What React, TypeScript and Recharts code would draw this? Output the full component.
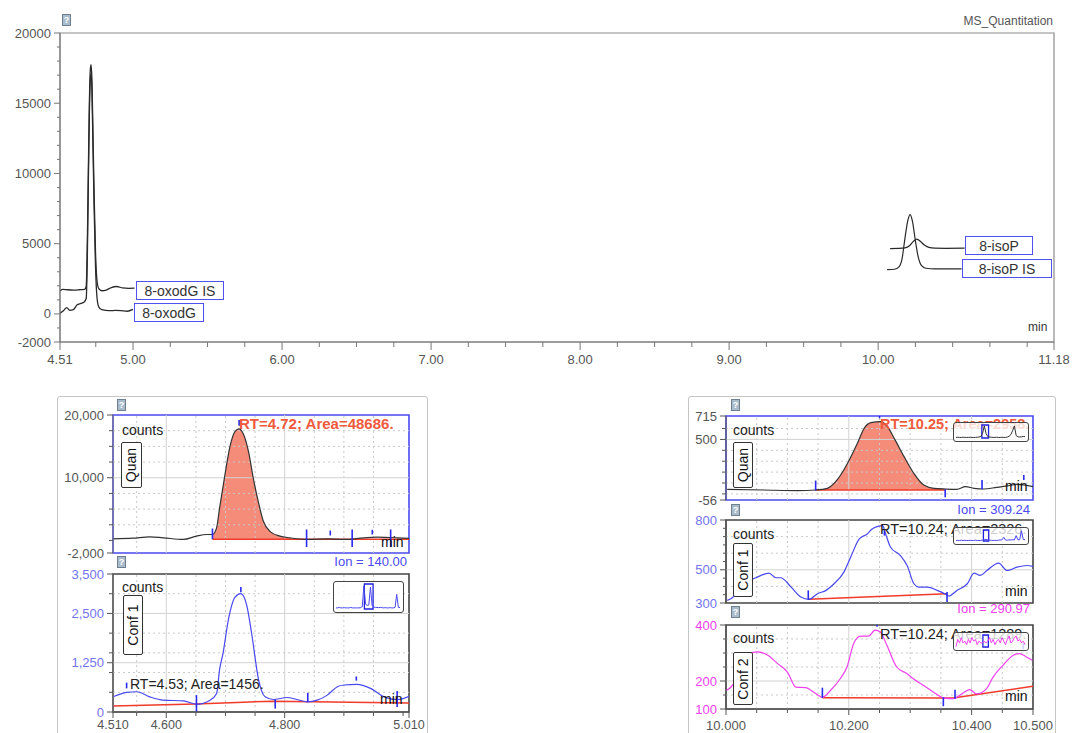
import React from 'react';
import { LineChart, ComposedChart, Line, Area, XAxis, YAxis, ReferenceLine, ReferenceArea } from 'recharts';

const FONT = '"Liberation Sans", Arial, sans-serif';

// ================= TOP OVERVIEW =================
const topXTicks = [4.51, 4.75, 5, 5.25, 5.5, 5.75, 6, 6.25, 6.5, 6.75, 7, 7.25, 7.5, 7.75, 8, 8.25, 8.5, 8.75, 9, 9.25, 9.5, 9.75, 10, 10.25, 10.5, 10.75, 11, 11.18];
const topXLabelVals = [4.51, 5, 6, 7, 8, 9, 10, 11.18];
const topXLabelText = ['4.51', '5.00', '6.00', '7.00', '8.00', '9.00', '10.00', '11.18'];
const topYTicks = [-2000, -1000, 0, 1000, 2000, 3000, 4000, 5000, 6000, 7000, 8000, 9000, 10000, 11000, 12000, 13000, 14000, 15000, 16000, 17000, 18000, 19000, 20000];
const topYLabelVals = [-2000, 0, 5000, 10000, 15000, 20000];
const topYLabelText = ['-2000', '0', '5000', '10000', '15000', '20000'];

const oxoIST = [4.51, 4.53, 4.56, 4.6, 4.64, 4.675, 4.686, 4.694, 4.7, 4.707, 4.713, 4.718, 4.724, 4.731, 4.739, 4.748, 4.758, 4.77, 4.79, 4.82, 4.85, 4.89, 4.93, 4.97, 5.01];
const oxoISV = [1650, 1750, 1720, 1700, 1720, 1750, 2000, 5500, 10000, 15000, 17300, 17750, 16800, 13000, 8500, 4500, 2400, 1800, 1650, 1700, 1850, 1950, 1850, 1820, 1830];
const oxoT = [4.51, 4.535, 4.555, 4.575, 4.6, 4.625, 4.65, 4.672, 4.686, 4.694, 4.7, 4.707, 4.713, 4.718, 4.724, 4.731, 4.739, 4.748, 4.758, 4.77, 4.79, 4.82, 4.85, 4.88, 4.92, 4.96, 5.0];
const oxoV = [50, 250, 450, 250, 300, 650, 750, 850, 1100, 4500, 9200, 14200, 16600, 17100, 16000, 12000, 7500, 3500, 1200, 500, 300, 250, 230, 250, 230, 190, 320];
const isoPT = [10.08, 10.14, 10.18, 10.21, 10.235, 10.26, 10.285, 10.31, 10.34, 10.38, 10.45, 10.58];
const isoPV = [4650, 4660, 4700, 4850, 5150, 5330, 5150, 4900, 4740, 4680, 4670, 4680];
const isoPIST = [10.06, 10.11, 10.14, 10.16, 10.18, 10.2, 10.215, 10.23, 10.25, 10.27, 10.29, 10.32, 10.38, 10.56];
const isoPISV = [3150, 3180, 3350, 3900, 5400, 6700, 7070, 6600, 5200, 4000, 3450, 3250, 3200, 3200];

// ================= LEFT PANEL (8-oxodG) =================
const leftXTicks = [4.51, 4.55, 4.6, 4.65, 4.7, 4.75, 4.8, 4.85, 4.9, 4.95, 5.0, 5.01];
const leftXLabelVals = [4.51, 4.6, 4.8, 5.01];
const leftXLabelText = ['4.510', '4.600', '4.800', '5.010'];
const leftXGridMajor = [4.6, 4.8];
const leftXGridMinor = [4.55, 4.65, 4.7, 4.75, 4.85, 4.9, 4.95];

const quanLYTicks = [-2000, 0, 2500, 5000, 7500, 10000, 12500, 15000, 17500, 20000];
const quanLYLabelVals = [-2000, 10000, 20000];
const quanLYLabelText = ['-2,000', '10,000', '20,000'];
const quanLGridMinor = [2500, 5000, 7500, 12500, 15000, 17500];
const quanLGridMajor = [10000];
const quanLT = [4.51, 4.544, 4.572, 4.595, 4.629, 4.651, 4.668, 4.678, 4.685, 4.69, 4.699, 4.708, 4.716, 4.723, 4.73, 4.739, 4.747, 4.756, 4.764, 4.776, 4.792, 4.809, 4.838, 4.872, 4.9, 4.934, 4.956, 4.99, 5.01];
const quanLV = [263, 368, 579, 421, 158, 684, 947, 947, 2000, 5158, 10421, 15158, 17368, 17789, 17000, 14105, 9895, 5947, 3052, 1368, 684, 421, 158, 263, 158, 421, 526, 421, 316];
const quanLFillStart = 4.678;
const quanLFillEnd = 4.809;
const quanLBase = 200;
const quanLBaseT = [4.678, 5.01];
const quanLBaseV = [200, 200];
const quanLMarkT = [4.678, 4.723, 4.837, 4.877, 4.914, 4.948, 4.979];
const quanLMarkLo = [200, 18300, -1050, 800, -1050, 950, -1050];
const quanLMarkHi = [1900, 19200, 1750, 1580, 1750, 1700, 1750];

const conf1LYTicks = [0, 500, 1000, 1250, 1500, 2000, 2500, 3000, 3500];
const conf1LYLabelVals = [0, 1250, 2500, 3500];
const conf1LYLabelText = ['0', '1,250', '2,500', '3,500'];
const conf1LGridMinor = [500, 1000, 1500, 2000, 3000];
const conf1LGridMajor = [1250, 2500];
const conf1LT = [4.51, 4.533, 4.55, 4.572, 4.595, 4.629, 4.651, 4.674, 4.685, 4.69, 4.696, 4.705, 4.716, 4.726, 4.736, 4.744, 4.756, 4.767, 4.781, 4.804, 4.821, 4.838, 4.855, 4.872, 4.889, 4.9, 4.922, 4.945, 4.968, 4.99, 5.01];
const conf1LV = [385, 497, 514, 385, 300, 283, 197, 300, 470, 1070, 1500, 2350, 2910, 3000, 2700, 2010, 810, 385, 317, 368, 317, 257, 300, 428, 642, 685, 702, 600, 385, 317, 400];
const conf1LBaseT = [4.51, 4.65, 4.73, 4.78, 5.01];
const conf1LBaseV = [150, 200, 250, 270, 230];
const conf1LMarkT = [4.533, 4.651, 4.726, 4.784, 4.839, 4.921, 4.99];
const conf1LMarkLo = [600, 0, 3040, 86, 257, 796, 128];
const conf1LMarkHi = [745, 428, 3168, 317, 488, 900, 530];

// ================= RIGHT PANEL (8-isoP) =================
const rightXTicks = [10.0, 10.05, 10.1, 10.15, 10.2, 10.25, 10.3, 10.35, 10.4, 10.45, 10.5];
const rightXLabelVals = [10.0, 10.2, 10.4, 10.5];
const rightXLabelText = ['10.000', '10.200', '10.400', '10.500'];
const rightXGridMajor = [10.2, 10.4];
const rightXGridMinor = [10.05, 10.1, 10.15, 10.25, 10.3, 10.35, 10.45];

const quanRYTicks = [-56, 0, 100, 200, 300, 400, 500, 600, 715];
const quanRYLabelVals = [-56, 500, 715];
const quanRYLabelText = ['-56', '500', '715'];
const quanRGridMinor = [0, 100, 200, 300, 400, 600];
const quanRGridMajor = [500];
const quanRT = [10.002, 10.062, 10.116, 10.146, 10.165, 10.181, 10.198, 10.214, 10.225, 10.236, 10.252, 10.263, 10.274, 10.29, 10.306, 10.322, 10.339, 10.358, 10.376, 10.39, 10.404, 10.42, 10.441, 10.458, 10.474, 10.5];
const quanRV = [42, 36, 30, 36, 51, 128, 281, 464, 602, 654, 663, 617, 510, 342, 189, 82, 51, 45, 42, 67, 51, 45, 60, 73, 88, 67];
const quanRFillStart = 10.146;
const quanRFillEnd = 10.358;
const quanRBase = 36;
const quanRBaseT = [10.146, 10.358];
const quanRBaseV = [36, 36];
const quanRMarkT = [10.146, 10.25, 10.357, 10.417, 10.485];
const quanRMarkLo = [30, 694, -31, 42, 128];
const quanRMarkHi = [122, 715, 42, 128, 174];

const conf1RYTicks = [300, 350, 400, 450, 500, 550, 600, 650, 700, 750, 800];
const conf1RYLabelVals = [300, 500, 800];
const conf1RYLabelText = ['300', '500', '800'];
const conf1RGridMinor = [400, 600, 700];
const conf1RGridMajor = [500];
const conf1RT = [10.002, 10.008, 10.03, 10.051, 10.07, 10.081, 10.089, 10.106, 10.122, 10.135, 10.149, 10.163, 10.176, 10.192, 10.203, 10.217, 10.23, 10.238, 10.246, 10.255, 10.26, 10.268, 10.284, 10.295, 10.306, 10.314, 10.328, 10.344, 10.358, 10.363, 10.376, 10.393, 10.404, 10.414, 10.425, 10.444, 10.458, 10.474, 10.49, 10.5];
const conf1RV = [316, 326, 416, 456, 480, 452, 452, 396, 336, 322, 356, 376, 416, 486, 576, 686, 716, 746, 760, 766, 716, 636, 586, 526, 416, 396, 396, 376, 352, 342, 376, 416, 480, 466, 496, 540, 496, 516, 526, 520];
const conf1RBaseT = [10.135, 10.36];
const conf1RBaseV = [322, 356];
const conf1RMarkT = [10.134, 10.258, 10.36, 10.48];
const conf1RMarkLo = [320, 706, 306, 706];
const conf1RMarkHi = [376, 736, 366, 746];

const conf2RYTicks = [100, 150, 200, 250, 300, 350, 400];
const conf2RYLabelVals = [100, 200, 400];
const conf2RYLabelText = ['100', '200', '400'];
const conf2RGridMinor = [150, 250, 300, 350];
const conf2RGridMajor = [200];
const conf2RT = [10.0, 10.014, 10.024, 10.035, 10.051, 10.068, 10.084, 10.1, 10.114, 10.13, 10.143, 10.157, 10.17, 10.186, 10.197, 10.208, 10.219, 10.232, 10.243, 10.251, 10.262, 10.278, 10.295, 10.305, 10.322, 10.338, 10.354, 10.37, 10.386, 10.397, 10.408, 10.424, 10.435, 10.451, 10.468, 10.478, 10.489, 10.499];
const conf2RV = [166, 196, 262, 298, 304, 292, 262, 232, 178, 176, 160, 142, 166, 208, 250, 334, 360, 360, 382, 376, 328, 250, 226, 208, 184, 160, 140, 137, 157, 169, 154, 172, 214, 256, 292, 298, 286, 274];
const conf2RBaseT = [10.157, 10.37, 10.5];
const conf2RBaseV = [140, 139, 181];
const conf2RMarkT = [10.157, 10.246, 10.354, 10.373, 10.484];
const conf2RMarkLo = [140, 394, 110, 137, 313];
const conf2RMarkHi = [176, 400, 142, 169, 334];

// ================= INSET OVERVIEWS =================
const insetConf1L = [1, 1, 1.2, 1, 1, 1.1, 1, 1, 1, 1.2, 1, 1, 1, 1, 1, 1.1, 1.5, 10, 2.5, 2, 2.2, 9.5, 2, 1.3, 1.2, 1.2, 1.1, 1.2, 1.1, 1, 1.1, 1, 1, 1.1, 1, 1, 1.2, 6.5, 1.2, 1.1];
const insetConf1LRect = [17.3, 22.6];
const insetQuanR = [1, 1.1, 1, 1, 1.1, 1, 1, 1, 1.1, 1, 1, 1, 1.1, 1.2, 1.5, 3, 7, 3, 1.4, 1.2, 1.1, 1, 1, 1.1, 1, 1, 1.1, 1, 1, 1.2, 1.6, 2.5, 4.5, 7, 2, 1.3, 1.2, 1.3, 1.5, 1.4];
const insetQuanRRect = [14.6, 18.4];
const insetConf1R = [2, 2.1, 2, 2.2, 2, 2.1, 2, 2, 2.1, 2, 2, 2.2, 2, 2, 2.1, 2.3, 2.6, 2.6, 2.5, 2.2, 2.1, 2, 2.1, 2, 2.2, 2.3, 2.4, 4, 2.3, 2.2, 2.4, 2.3, 2.5, 2.4, 5, 2.4, 2.5, 8, 2.6, 2.5];
const insetConf1RRect = [15.5, 18.5];
const insetConf2R = [4, 6, 5, 6.5, 5, 5.5, 4.5, 6, 5, 6.5, 5.5, 6, 4.5, 5.5, 5, 5, 5.5, 5, 5.5, 6.5, 5, 6, 4.5, 5.5, 6, 5, 6.5, 5.5, 4.5, 6, 7, 5, 5.5, 6.5, 7, 5.5, 6, 5, 5.5, 4.5];
const insetConf2RRect = [15.2, 18.3];

// ================= helpers =================
const pairs = (ts: number[], vs: number[]) => ts.map((t, i) => ({ t, v: vs[i] }));
const near = (a: number, b: number) => Math.abs(a - b) < 1e-9;

function makeYTick(labelVals: number[], labelText: string[], color: string, fontSize: number, majorLen: number, minorLen: number, axisColor: string) {
  return (p: any) => {
    const v = p.payload.value;
    const i = labelVals.findIndex((l) => near(l, v));
    const len = i >= 0 ? majorLen : minorLen;
    return (
      <g>
        <line x1={p.x} x2={p.x - len} y1={p.y} y2={p.y} stroke={axisColor} strokeWidth={1} />
        {i >= 0 && (
          <text x={p.x - majorLen - 3} y={p.y} textAnchor="end" dominantBaseline="central" fontSize={fontSize} fill={color} fontFamily={FONT}>
            {labelText[i]}
          </text>
        )}
      </g>
    );
  };
}

function makeXTick(labelVals: number[], labelText: string[], color: string, fontSize: number, majorLen: number, minorLen: number, axisColor: string, textDy: number) {
  return (p: any) => {
    const v = p.payload.value;
    const i = labelVals.findIndex((l) => near(l, v));
    const len = i >= 0 ? majorLen : minorLen;
    return (
      <g>
        <line x1={p.x} x2={p.x} y1={p.y} y2={p.y + len} stroke={axisColor} strokeWidth={1} />
        {i >= 0 && (
          <text x={p.x} y={p.y + textDy} textAnchor="middle" dominantBaseline="central" fontSize={fontSize} fill={color} fontFamily={FONT}>
            {labelText[i]}
          </text>
        )}
      </g>
    );
  };
}

const Txt = (props: { x: number; y: number; size: number; color?: string; bold?: boolean; right?: boolean; children: React.ReactNode }) => (
  <div
    style={{
      position: 'absolute',
      left: props.right ? undefined : props.x,
      right: props.right ? 1072 - props.x : undefined,
      top: props.y - props.size * 0.58,
      fontSize: props.size,
      lineHeight: 1.15,
      fontFamily: FONT,
      fontWeight: props.bold ? 700 : 400,
      color: props.color || '#222',
      whiteSpace: 'nowrap',
    }}
  >
    {props.children}
  </div>
);

const LabelBox = (props: { x: number; y: number; w: number; h: number; children: React.ReactNode }) => (
  <div
    style={{
      position: 'absolute',
      left: props.x,
      top: props.y,
      width: props.w,
      height: props.h,
      boxSizing: 'border-box',
      border: '1.5px solid #5050ee',
      background: '#fff',
      fontFamily: FONT,
      fontSize: 14,
      color: '#333',
      display: 'flex',
      alignItems: 'center',
      justifyContent: 'center',
      whiteSpace: 'nowrap',
    }}
  >
    {props.children}
  </div>
);

const RotBox = (props: { x: number; y: number; w: number; h: number; children: React.ReactNode }) => (
  <div
    style={{
      position: 'absolute',
      left: props.x,
      top: props.y,
      width: props.w,
      height: props.h,
      boxSizing: 'border-box',
      border: '1.3px solid #333',
      borderRadius: 2,
      background: '#fff',
      display: 'flex',
      alignItems: 'center',
      justifyContent: 'center',
    }}
  >
    <div style={{ transform: 'rotate(-90deg)', fontFamily: FONT, fontSize: 14, color: '#111', whiteSpace: 'nowrap' }}>{props.children}</div>
  </div>
);

const QIcon = (props: { x: number; y: number }) => (
  <div
    style={{
      position: 'absolute',
      left: props.x,
      top: props.y,
      width: 9,
      height: 12,
      boxSizing: 'border-box',
      border: '1px solid #6f7f90',
      background: '#a9bccb',
      color: '#fff',
      fontFamily: FONT,
      fontSize: 9,
      lineHeight: '10px',
      textAlign: 'center',
      fontWeight: 700,
    }}
  >
    ?
  </div>
);

const Inset = (props: { x: number; y: number; w: number; h: number; values: number[]; color: string; rect: number[] }) => {
  const data = props.values.map((v, i) => ({ i, v }));
  const mn = Math.min(...props.values);
  const mx = Math.max(...props.values);
  return (
    <div
      style={{
        position: 'absolute',
        left: props.x,
        top: props.y,
        width: props.w,
        height: props.h,
        boxSizing: 'border-box',
        border: '1.5px solid #444',
        borderRadius: 3,
        background: 'rgba(255,255,255,0.78)',
      }}
    >
      <LineChart width={props.w - 3} height={props.h - 3} data={data} margin={{ top: 2, right: 2, bottom: 2, left: 2 }}>
        <XAxis type="number" dataKey="i" domain={[0, props.values.length - 1]} hide />
        <YAxis type="number" domain={[mn - (mx - mn) * 0.05, mx + (mx - mn) * 0.08]} hide />
        <Line dataKey="v" stroke={props.color} strokeWidth={1} dot={false} isAnimationActive={false} type="linear" />
        <ReferenceArea x1={props.rect[0]} x2={props.rect[1]} fill="none" stroke="#2020e0" strokeWidth={1.3} ifOverflow="visible" />
      </LineChart>
    </div>
  );
};

function grids(xMajor: number[], xMinor: number[], yMajor: number[], yMinor: number[]) {
  const out: React.ReactNode[] = [];
  xMinor.forEach((x) => out.push(<ReferenceLine key={'xm' + x} x={x} stroke="#c9c9c9" strokeDasharray="2 3" />));
  yMinor.forEach((y) => out.push(<ReferenceLine key={'ym' + y} y={y} stroke="#c9c9c9" strokeDasharray="2 3" />));
  xMajor.forEach((x) => out.push(<ReferenceLine key={'xM' + x} x={x} stroke="#d2d2d2" />));
  yMajor.forEach((y) => out.push(<ReferenceLine key={'yM' + y} y={y} stroke="#d2d2d2" />));
  return out;
}

function markers(ts: number[], lo: number[], hi: number[]) {
  return ts.map((t, i) => (
    <ReferenceLine
      key={'mk' + i}
      segment={[
        { x: t, y: lo[i] },
        { x: t, y: hi[i] },
      ]}
      stroke="#2a2af0"
      strokeWidth={1.6}
      ifOverflow="visible"
    />
  ));
}

export default function App() {
  const topX = makeXTick(topXLabelVals, topXLabelText, '#555', 13, 8, 5, '#777', 17);
  const topY = makeYTick(topYLabelVals, topYLabelText, '#555', 13, 6, 3, '#777');
  const leftX = makeXTick(leftXLabelVals, leftXLabelText, '#555', 12.5, 6, 4, '#555', 13);
  const rightX = makeXTick(rightXLabelVals, rightXLabelText, '#555', 13, 6, 4, '#555', 16);

  const quanLData = pairs(quanLT, quanLV);
  const quanLFill = quanLData.filter((d) => d.t >= quanLFillStart - 1e-9 && d.t <= quanLFillEnd + 1e-9);
  const quanRData = pairs(quanRT, quanRV);
  const quanRFill = quanRData.filter((d) => d.t >= quanRFillStart - 1e-9 && d.t <= quanRFillEnd + 1e-9);

  return (
    <div style={{ position: 'absolute', left: 0, top: 0, width: 1072, height: 733, background: '#fff', overflow: 'hidden', fontFamily: FONT }}>
      {/* ===== top overview ===== */}
      <div style={{ position: 'absolute', left: 0, top: 0 }}>
        <LineChart width={1072} height={372} margin={{ top: 33, right: 18, bottom: 0, left: 0 }}>
          <XAxis type="number" dataKey="t" domain={[4.51, 11.18]} allowDataOverflow ticks={topXTicks} interval={0} height={30} tickSize={0} tickMargin={0} tickLine={false} axisLine={{ stroke: '#777' }} tick={topX} />
          <YAxis type="number" domain={[-2000, 20000]} allowDataOverflow ticks={topYTicks} interval={0} width={60} tickSize={0} tickMargin={0} tickLine={false} axisLine={{ stroke: '#777' }} tick={topY} />
          <ReferenceArea x1={4.51} x2={11.18} y1={-2000} y2={20000} fill="none" stroke="#8a8a8a" strokeWidth={1.2} />
          <Line data={pairs(oxoIST, oxoISV)} dataKey="v" type="monotone" stroke="#2a2a2a" strokeWidth={1.3} dot={false} isAnimationActive={false} />
          <Line data={pairs(oxoT, oxoV)} dataKey="v" type="monotone" stroke="#2a2a2a" strokeWidth={1.3} dot={false} isAnimationActive={false} />
          <Line data={pairs(isoPT, isoPV)} dataKey="v" type="monotone" stroke="#2a2a2a" strokeWidth={1.2} dot={false} isAnimationActive={false} />
          <Line data={pairs(isoPIST, isoPISV)} dataKey="v" type="monotone" stroke="#2a2a2a" strokeWidth={1.2} dot={false} isAnimationActive={false} />
        </LineChart>
      </div>
      <QIcon x={62} y={14} />
      <Txt x={1053} y={22} size={12} color="#555" right>MS_Quantitation</Txt>
      <Txt x={1028} y={328} size={12} color="#333">min</Txt>
      <LabelBox x={136} y={281} w={88} h={19}>8-oxodG IS</LabelBox>
      <LabelBox x={134} y={303} w={70} h={19}>8-oxodG</LabelBox>
      <LabelBox x={965} y={236} w={68} h={19}>8-isoP</LabelBox>
      <LabelBox x={962} y={259} w={90} h={19}>8-isoP IS</LabelBox>

      {/* ===== left panel frame ===== */}
      <div style={{ position: 'absolute', left: 57, top: 396, width: 371, height: 360, boxSizing: 'border-box', border: '1px solid #c4c4c4', borderRadius: 3 }} />
      {/* left Quan */}
      <div style={{ position: 'absolute', left: 58, top: 400 }}>
        <ComposedChart width={370} height={160} margin={{ top: 15, right: 19, bottom: 7, left: 0 }}>
          <XAxis type="number" dataKey="t" domain={[4.51, 5.01]} allowDataOverflow hide />
          <YAxis type="number" domain={[-2000, 20000]} allowDataOverflow ticks={quanLYTicks} interval={0} width={55} tickSize={0} tickMargin={0} tickLine={false} axisLine={{ stroke: '#777' }} tick={makeYTick(quanLYLabelVals, quanLYLabelText, '#555', 13, 6, 4, '#555')} />
          {grids(leftXGridMajor, leftXGridMinor, quanLGridMajor, quanLGridMinor)}
          <Area data={quanLFill} dataKey="v" type="monotone" baseValue={quanLBase} fill="#f47f6b" fillOpacity={0.9} stroke="none" isAnimationActive={false} />
          <Line data={pairs(quanLBaseT, quanLBaseV)} dataKey="v" stroke="#f03a2a" strokeWidth={1.5} dot={false} isAnimationActive={false} />
          <Line data={quanLData} dataKey="v" type="monotone" stroke="#333" strokeWidth={1.2} dot={false} isAnimationActive={false} />
          {markers(quanLMarkT, quanLMarkLo, quanLMarkHi)}
          <ReferenceArea x1={4.51} x2={5.01} y1={-2000} y2={20000} fill="none" stroke="#4a4af0" strokeWidth={1.6} ifOverflow="visible" />
        </ComposedChart>
      </div>
      <QIcon x={117} y={399} />
      <Txt x={122} y={430} size={14}>counts</Txt>
      <RotBox x={121} y={442} w={21} h={46}>Quan</RotBox>
      <Txt x={239} y={424} size={15} color="#f05a3c" bold>RT=4.72; Area=48686.</Txt>
      <Txt x={381} y={542} size={14} color="#111">min</Txt>
      <Txt x={407} y={563} size={13} color="#4a4af0" right>Ion = 140.00</Txt>

      {/* left Conf 1 */}
      <div style={{ position: 'absolute', left: 58, top: 560 }}>
        <LineChart width={370} height={180} margin={{ top: 14, right: 19, bottom: 0, left: 0 }}>
          <XAxis type="number" dataKey="t" domain={[4.51, 5.01]} allowDataOverflow ticks={leftXTicks} interval={0} height={28} tickSize={0} tickMargin={0} tickLine={false} axisLine={{ stroke: '#555' }} tick={leftX} />
          <YAxis type="number" domain={[0, 3500]} allowDataOverflow ticks={conf1LYTicks} interval={0} width={55} tickSize={0} tickMargin={0} tickLine={false} axisLine={{ stroke: '#777' }} tick={makeYTick(conf1LYLabelVals, conf1LYLabelText, '#7474ee', 13, 6, 4, '#555')} />
          {grids(leftXGridMajor, leftXGridMinor, conf1LGridMajor, conf1LGridMinor)}
          <Line data={pairs(conf1LBaseT, conf1LBaseV)} dataKey="v" stroke="#f03a2a" strokeWidth={1.5} dot={false} isAnimationActive={false} />
          <Line data={pairs(conf1LT, conf1LV)} dataKey="v" type="monotone" stroke="#4848f0" strokeWidth={1.2} dot={false} isAnimationActive={false} />
          {markers(conf1LMarkT, conf1LMarkLo, conf1LMarkHi)}
          <ReferenceArea x1={4.51} x2={5.01} y1={0} y2={3500} fill="none" stroke="#444" strokeWidth={1.6} ifOverflow="visible" />
        </LineChart>
      </div>
      <QIcon x={117} y={556} />
      <Txt x={122} y={587} size={14}>counts</Txt>
      <RotBox x={123} y={595} w={20} h={60}>Conf 1</RotBox>
      <Txt x={130} y={684} size={14}>RT=4.53; Area=1456.</Txt>
      <Txt x={380} y={699} size={14} color="#111">min</Txt>
      <Inset x={333} y={581} w={71} h={32} values={insetConf1L} color="#4848f0" rect={insetConf1LRect} />

      {/* ===== right panel frame ===== */}
      <div style={{ position: 'absolute', left: 688, top: 396, width: 368, height: 360, boxSizing: 'border-box', border: '1px solid #c4c4c4', borderRadius: 3 }} />
      {/* right Quan */}
      <div style={{ position: 'absolute', left: 688, top: 400 }}>
        <ComposedChart width={368} height={110} margin={{ top: 16, right: 23, bottom: 10, left: 0 }}>
          <XAxis type="number" dataKey="t" domain={[10.0, 10.5]} allowDataOverflow hide />
          <YAxis type="number" domain={[-56, 715]} allowDataOverflow ticks={quanRYTicks} interval={0} width={38} tickSize={0} tickMargin={0} tickLine={false} axisLine={{ stroke: '#555' }} tick={makeYTick(quanRYLabelVals, quanRYLabelText, '#555', 13, 6, 4, '#555')} />
          {grids(rightXGridMajor, rightXGridMinor, quanRGridMajor, quanRGridMinor)}
          <Area data={quanRFill} dataKey="v" type="monotone" baseValue={quanRBase} fill="#f47f6b" fillOpacity={0.9} stroke="none" isAnimationActive={false} />
          <Line data={pairs(quanRBaseT, quanRBaseV)} dataKey="v" stroke="#f03a2a" strokeWidth={1.5} dot={false} isAnimationActive={false} />
          <Line data={quanRData} dataKey="v" type="monotone" stroke="#333" strokeWidth={1.2} dot={false} isAnimationActive={false} />
          {markers(quanRMarkT, quanRMarkLo, quanRMarkHi)}
          <ReferenceArea x1={10.0} x2={10.5} y1={-56} y2={715} fill="none" stroke="#4a4af0" strokeWidth={1.6} ifOverflow="visible" />
        </ComposedChart>
      </div>
      <QIcon x={731} y={399} />
      <Txt x={733} y={430} size={14}>counts</Txt>
      <RotBox x={733} y={442} w={20} h={46}>Quan</RotBox>
      <Txt x={880} y={424} size={14.5} color="#f05a3c" bold>RT=10.25; Area=2958.</Txt>
      <Txt x={1005} y={486} size={14} color="#111">min</Txt>
      <Inset x={953} y={422} w={76} h={20} values={insetQuanR} color="#333" rect={insetQuanRRect} />
      <Txt x={1030} y={511} size={13} color="#4a4af0" right>Ion = 309.24</Txt>

      {/* right Conf 1 */}
      <div style={{ position: 'absolute', left: 688, top: 510 }}>
        <LineChart width={368} height={100} margin={{ top: 10, right: 23, bottom: 7, left: 0 }}>
          <XAxis type="number" dataKey="t" domain={[10.0, 10.5]} allowDataOverflow hide />
          <YAxis type="number" domain={[300, 800]} allowDataOverflow ticks={conf1RYTicks} interval={0} width={38} tickSize={0} tickMargin={0} tickLine={false} axisLine={{ stroke: '#555' }} tick={makeYTick(conf1RYLabelVals, conf1RYLabelText, '#7474ee', 13, 6, 3, '#555')} />
          {grids(rightXGridMajor, rightXGridMinor, conf1RGridMajor, conf1RGridMinor)}
          <Line data={pairs(conf1RBaseT, conf1RBaseV)} dataKey="v" stroke="#f03a2a" strokeWidth={1.5} dot={false} isAnimationActive={false} />
          <Line data={pairs(conf1RT, conf1RV)} dataKey="v" type="monotone" stroke="#4848f0" strokeWidth={1.2} dot={false} isAnimationActive={false} />
          {markers(conf1RMarkT, conf1RMarkLo, conf1RMarkHi)}
          <ReferenceArea x1={10.0} x2={10.5} y1={300} y2={800} fill="none" stroke="#444" strokeWidth={1.6} ifOverflow="visible" />
        </LineChart>
      </div>
      <QIcon x={731} y={504} />
      <Txt x={733} y={534} size={14}>counts</Txt>
      <RotBox x={733} y={543} w={20} h={54}>Conf 1</RotBox>
      <Txt x={880} y={529} size={14.5}>RT=10.24; Area=2326.</Txt>
      <Txt x={1005} y={591} size={14} color="#111">min</Txt>
      <Inset x={953} y={527} w={76} h={18} values={insetConf1R} color="#4848f0" rect={insetConf1RRect} />
      <Txt x={1030} y={610} size={13} color="#f040f0" right>Ion = 290.97</Txt>

      {/* right Conf 2 */}
      <div style={{ position: 'absolute', left: 688, top: 612 }}>
        <LineChart width={368} height={130} margin={{ top: 13, right: 23, bottom: 0, left: 0 }}>
          <XAxis type="number" dataKey="t" domain={[10.0, 10.5]} allowDataOverflow ticks={rightXTicks} interval={0} height={33} tickSize={0} tickMargin={0} tickLine={false} axisLine={{ stroke: '#555' }} tick={rightX} />
          <YAxis type="number" domain={[100, 400]} allowDataOverflow ticks={conf2RYTicks} interval={0} width={38} tickSize={0} tickMargin={0} tickLine={false} axisLine={{ stroke: '#555' }} tick={makeYTick(conf2RYLabelVals, conf2RYLabelText, '#f040f0', 13, 6, 3, '#555')} />
          {grids(rightXGridMajor, rightXGridMinor, conf2RGridMajor, conf2RGridMinor)}
          <Line data={pairs(conf2RBaseT, conf2RBaseV)} dataKey="v" stroke="#f03a2a" strokeWidth={1.5} dot={false} isAnimationActive={false} />
          <Line data={pairs(conf2RT, conf2RV)} dataKey="v" type="monotone" stroke="#f040f0" strokeWidth={1.2} dot={false} isAnimationActive={false} />
          {markers(conf2RMarkT, conf2RMarkLo, conf2RMarkHi)}
          <ReferenceArea x1={10.0} x2={10.5} y1={100} y2={400} fill="none" stroke="#444" strokeWidth={1.6} ifOverflow="visible" />
        </LineChart>
      </div>
      <QIcon x={731} y={606} />
      <Txt x={733} y={638} size={14}>counts</Txt>
      <RotBox x={733} y={652} w={20} h={53}>Conf 2</RotBox>
      <Txt x={880} y={634} size={14.5}>RT=10.24; Area=1289.</Txt>
      <Txt x={1005} y={696} size={14} color="#111">min</Txt>
      <Inset x={953} y={632} w={76} h={19} values={insetConf2R} color="#f040f0" rect={insetConf2RRect} />
    </div>
  );
}
